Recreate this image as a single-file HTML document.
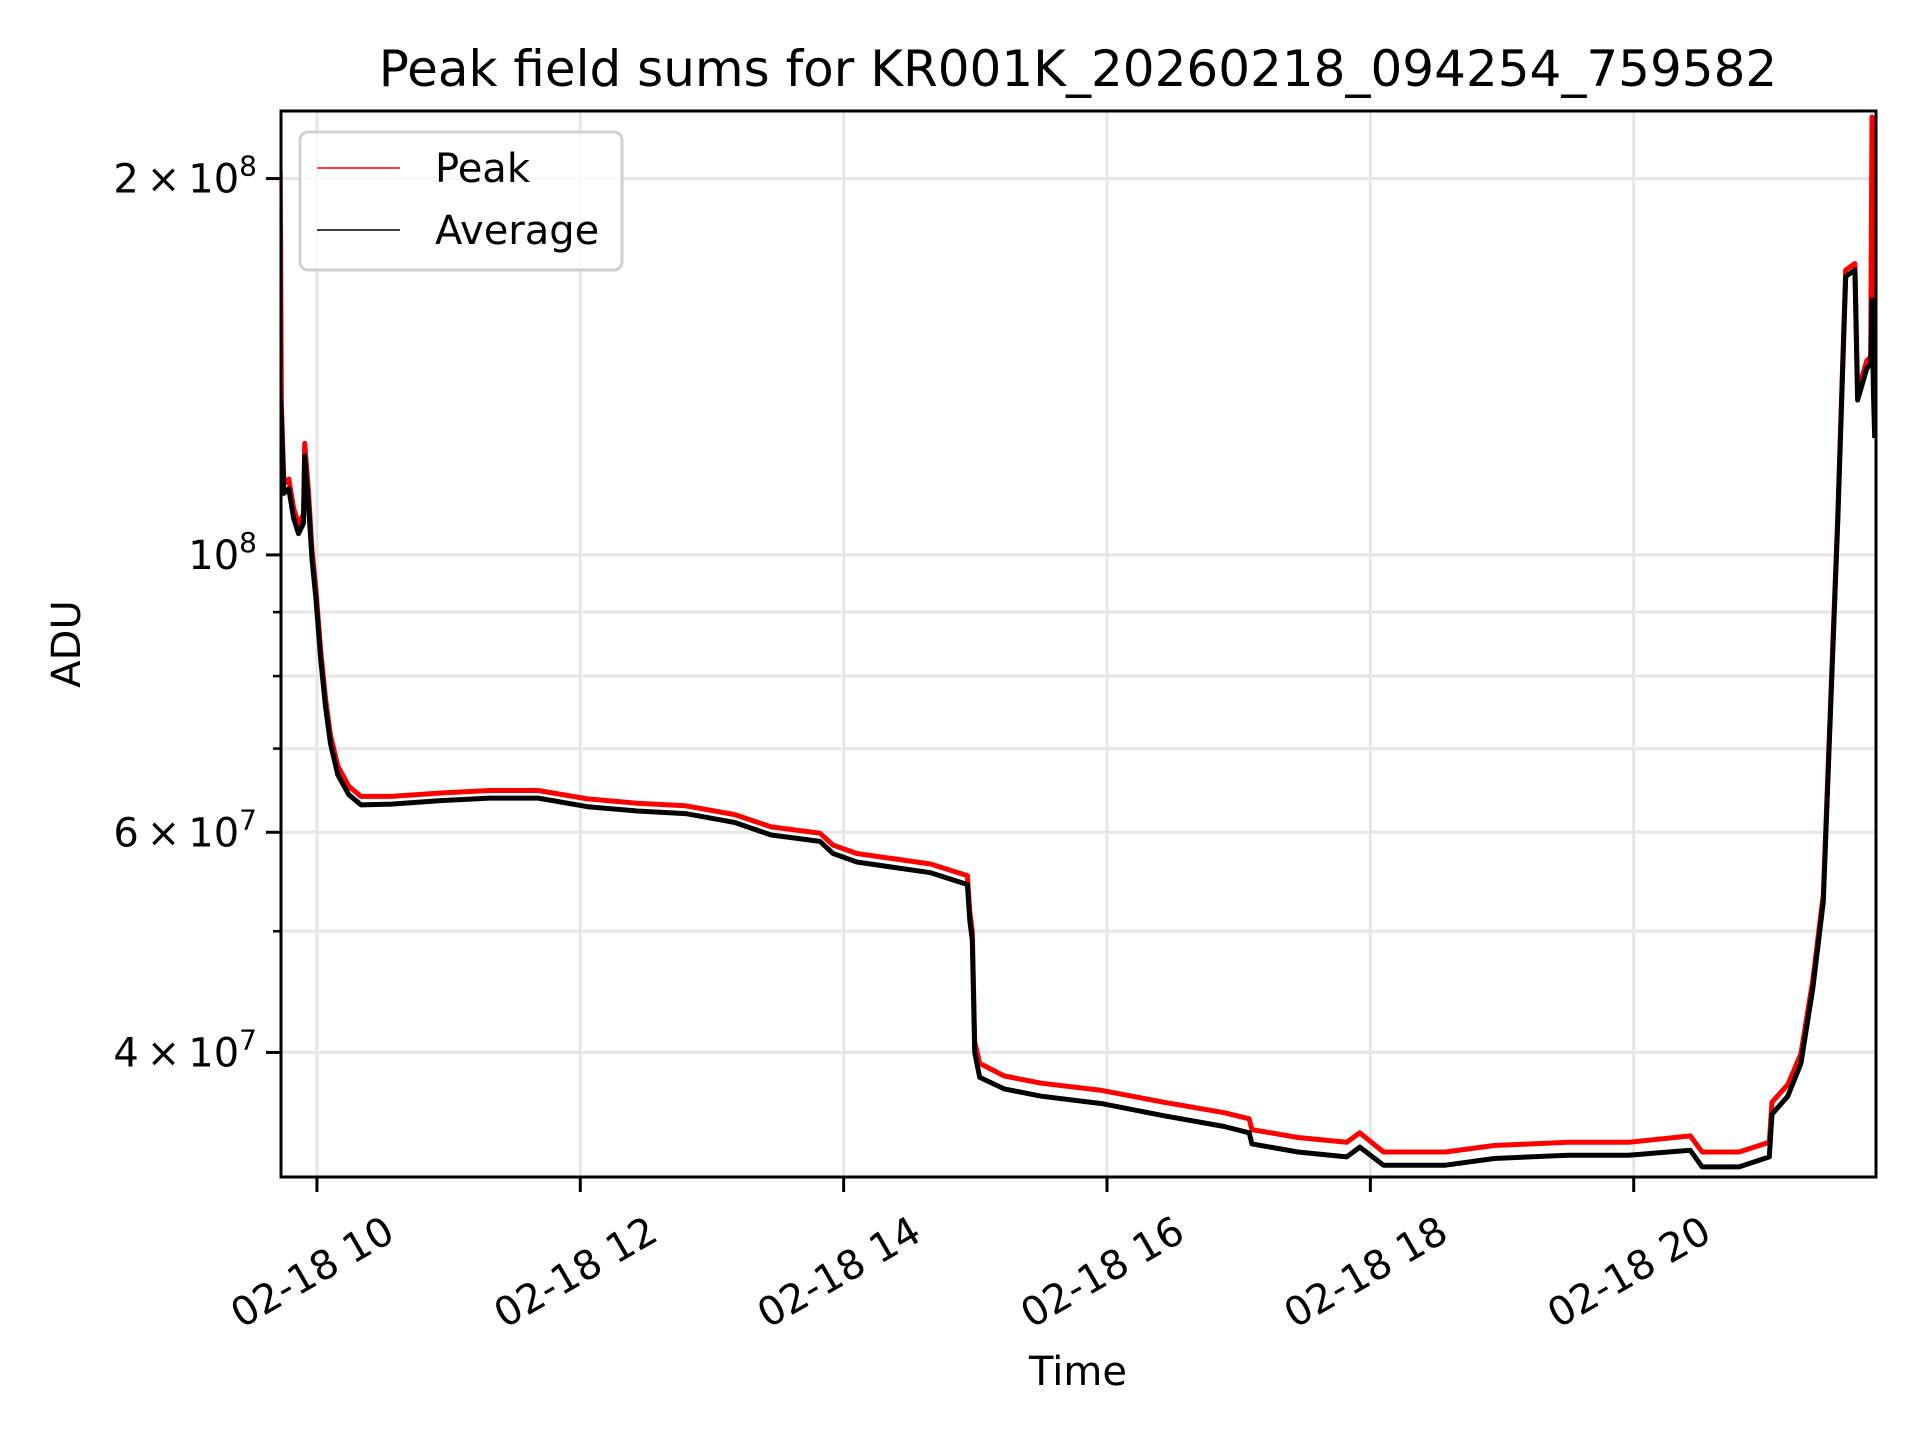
<!DOCTYPE html>
<html><head><meta charset="utf-8"><style>
html,body{margin:0;padding:0;background:#fff;}
svg{display:block;}
text{font-family:"DejaVu Sans","Liberation Sans",sans-serif;fill:#000;}
</style></head><body>
<svg id="chart" width="1920" height="1440" viewBox="0 0 1920 1440" xmlns="http://www.w3.org/2000/svg">
<rect x="0" y="0" width="1920" height="1440" fill="#fff"/>
<text x="1078" y="86" font-size="50" text-anchor="middle">Peak field sums for KR001K_20260218_094254_759582</text>
<g id="grid"></g>
<g id="series"></g>
<rect x="281" y="111" width="1595" height="1066" fill="none" stroke="#000" stroke-width="3"/>
<g id="axes"></g>
<text transform="translate(80,644) rotate(-90)" font-size="40" text-anchor="middle">ADU</text>
<text x="1078" y="1385" font-size="40" text-anchor="middle">Time</text>
<g>
<rect x="300" y="132" width="322" height="138" rx="8" fill="#fff" fill-opacity="0.8" stroke="#d0d0d0" stroke-width="3"/>
<line x1="317" y1="168" x2="400" y2="168" stroke="#ff0000" stroke-width="1.6"/>
<text x="435" y="182" font-size="40">Peak</text>
<line x1="317" y1="230" x2="400" y2="230" stroke="#000" stroke-width="1.6"/>
<text x="435" y="244" font-size="40">Average</text>
</g>
</svg>
<script>
const times = [9.721,9.73,9.749,9.786,9.823,9.86,9.898,9.907,9.935,9.963,9.991,10.028,10.065,10.102,10.158,10.242,10.335,10.567,10.94,11.31,11.68,12.056,12.43,12.80,13.17,13.45,13.82,13.92,14.10,14.66,14.94,14.958,14.977,14.995,15.033,15.22,15.50,15.96,16.43,16.89,17.08,17.10,17.45,17.82,17.92,18.10,18.57,18.94,19.50,19.96,20.43,20.52,20.80,21.03,21.05,21.17,21.27,21.36,21.44,21.50,21.55,21.61,21.68,21.70,21.77,21.80,21.81,21.82,21.83];
const peakValues = [2.03e8,1.32e8,1.14e8,1.15e8,1.09e8,1.058e8,1.078e8,1.228e8,1.127e8,1.007e8,9.41e7,8.40e7,7.68e7,7.18e7,6.78e7,6.53e7,6.41e7,6.41e7,6.45e7,6.48e7,6.48e7,6.38e7,6.33e7,6.30e7,6.20e7,6.06e7,5.99e7,5.86e7,5.77e7,5.66e7,5.54e7,5.18e7,5.00e7,4.08e7,3.92e7,3.83e7,3.78e7,3.73e7,3.65e7,3.58e7,3.54e7,3.47e7,3.42e7,3.39e7,3.45e7,3.33e7,3.33e7,3.37e7,3.39e7,3.39e7,3.43e7,3.33e7,3.33e7,3.39e7,3.65e7,3.77e7,3.99e7,4.57e7,5.35e7,7.85e7,1.077e8,1.69e8,1.71e8,1.35e8,1.43e8,1.44e8,2.24e8,2.09e8,1.29e8];
const avgValues = [1.35e8,1.29e8,1.12e8,1.13e8,1.07e8,1.04e8,1.06e8,1.20e8,1.10e8,9.9e7,9.25e7,8.27e7,7.56e7,7.07e7,6.67e7,6.43e7,6.31e7,6.32e7,6.36e7,6.39e7,6.39e7,6.29e7,6.24e7,6.21e7,6.11e7,5.97e7,5.90e7,5.77e7,5.68e7,5.57e7,5.45e7,5.10e7,4.92e7,4.0e7,3.82e7,3.74e7,3.69e7,3.64e7,3.56e7,3.49e7,3.45e7,3.38e7,3.33e7,3.30e7,3.36e7,3.25e7,3.25e7,3.29e7,3.31e7,3.31e7,3.34e7,3.24e7,3.24e7,3.30e7,3.57e7,3.69e7,3.92e7,4.50e7,5.28e7,7.75e7,1.065e8,1.67e8,1.69e8,1.33e8,1.41e8,1.42e8,1.60e8,1.35e8,1.24e8];
const xTickHours = [10,12,14,16,18,20];
const xTickLabels = ["02-18 10","02-18 12","02-18 14","02-18 16","02-18 18","02-18 20"];
const yMajorTicks = [2e8,1e8,6e7,4e7];
const yMajorLabels = [["2","8"],[null,"8"],["6","7"],["4","7"]];
const yMinorTicks = [9e7,8e7,7e7,5e7];

const NS="http://www.w3.org/2000/svg";
const L=281,R=1876,T=111,B=1177;
const hMin=9.727,hMax=21.84, vMax=2.265e8, vMin=3.18e7;
function xs(h){return L+(h-hMin)/(hMax-hMin)*(R-L);}
function ys(v){return T+(Math.log10(vMax)-Math.log10(v))/(Math.log10(vMax)-Math.log10(vMin))*(B-T);}
function mk(tag,parent,attrs){const e=document.createElementNS(NS,tag);for(const k in attrs)e.setAttribute(k,attrs[k]);parent.appendChild(e);return e;}
const grid=document.getElementById('grid'),axes=document.getElementById('axes'),series=document.getElementById('series');
xTickHours.forEach((h,i)=>{
  const x=xs(h);
  const g=mk('line',grid,{x1:x,y1:T,x2:x,y2:B,stroke:'#e6e6e6','stroke-width':3});
  
  
  const t=mk('line',axes,{x1:x,y1:B,x2:x,y2:B+15,stroke:'#000','stroke-width':3});
  
  
  const lb=mk('text',axes,{x:0,y:0,'font-size':40,'text-anchor':'end',transform:`translate(${x+80},${B+62}) rotate(-30)`});
  lb.textContent=xTickLabels[i];
  
  
});
yMinorTicks.forEach(v=>{
  const y=ys(v);
  const g=mk('line',grid,{x1:L,y1:y,x2:R,y2:y,stroke:'#e6e6e6','stroke-width':3});
  
  
  const t=mk('line',axes,{x1:L-8,y1:y,x2:L,y2:y,stroke:'#000','stroke-width':2.5});
  
  
});
yMajorTicks.forEach((v,i)=>{
  const y=ys(v);
  const g=mk('line',grid,{x1:L,y1:y,x2:R,y2:y,stroke:'#e6e6e6','stroke-width':3});
  
  
  const t=mk('line',axes,{x1:L-15,y1:y,x2:L,y2:y,stroke:'#000','stroke-width':3});
  
  
  const lb=mk('text',axes,{x:L-24,y:y+14,'font-size':40,'text-anchor':'end'});
  const [m,e]=yMajorLabels[i];
  lb.innerHTML=(m?m+'\u2009\u00d7\u2009':'')+'10<tspan dy="-17" font-size="28">'+e+'</tspan>';
  
  
});
function path(vals){return vals.map((v,i)=>(i?'L':'M')+xs(times[i]).toFixed(1)+','+ys(v).toFixed(1)).join(' ');}
const clip=mk('clipPath',series,{id:'pc'});mk('rect',clip,{x:L,y:T,width:R-L,height:B-T});
const pk=mk('path',series,{d:path(peakValues),fill:'none',stroke:'#ff0000','stroke-width':5,'stroke-linejoin':'round','clip-path':'url(#pc)'});


const av=mk('path',series,{d:path(avgValues),fill:'none',stroke:'#000','stroke-width':5,'stroke-linejoin':'round','clip-path':'url(#pc)'});


</script>
</body></html>
